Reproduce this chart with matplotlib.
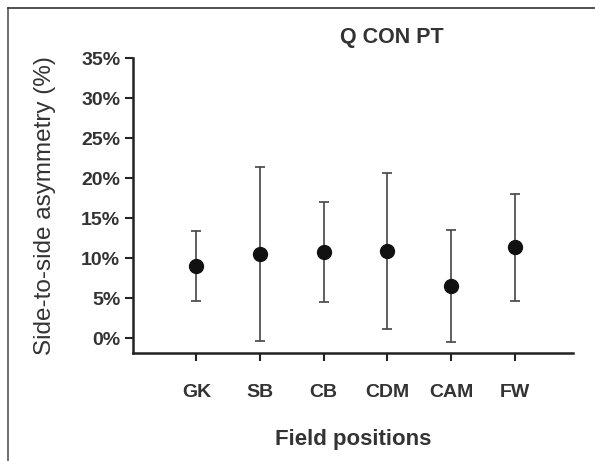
import matplotlib
matplotlib.use("Agg")
import matplotlib.pyplot as plt
from matplotlib.ticker import FuncFormatter
from matplotlib.lines import Line2D

categories = ["GK", "SB", "CB", "CDM", "CAM", "FW"]
means = [9.1, 10.5, 10.8, 10.9, 6.5, 11.45]
upper = [13.4, 21.4, 17.1, 20.7, 13.6, 18.0]
lower = [4.7, -0.3, 4.5, 1.2, -0.45, 4.7]
yticks = [0, 5, 10, 15, 20, 25, 30, 35]

plt.rcParams['font.family'] = ['Liberation Sans', 'DejaVu Sans']

fig = plt.figure(figsize=(5.95, 4.61), dpi=100)
ax = fig.add_axes([0.223, 0.2336, 0.9636 - 0.223, 0.8735 - 0.2336])

x = list(range(len(categories)))
err_lo = [m - l for m, l in zip(means, lower)]
err_hi = [u - m for m, u in zip(means, upper)]
ax.errorbar(x, means, yerr=[err_lo, err_hi], fmt='o', color='#111111',
            ecolor='#444444', elinewidth=1.2, capsize=3.5, capthick=1.2,
            markersize=10, zorder=3)

ax.set_xlim(-1, 5.92)
ax.set_ylim(-1.875, 35)
ax.set_xticks(x)
ax.set_xticklabels(categories)
ax.set_yticks(yticks)
ax.yaxis.set_major_formatter(FuncFormatter(lambda v, p: f"{int(v)}%"))

for s in ['top', 'right']:
    ax.spines[s].set_visible(False)
for s in ['left', 'bottom']:
    ax.spines[s].set_linewidth(1.8)
    ax.spines[s].set_color('#222222')
ax.spines['left'].set_bounds(-1.875, 35)

ax.tick_params(axis='both', direction='out', length=6, width=1.5, color='#222222',
               labelcolor='#333333', labelsize=14)
ax.tick_params(axis='x', pad=16)
ax.tick_params(axis='y', pad=3)
for lbl in ax.get_xticklabels() + ax.get_yticklabels():
    lbl.set_fontweight('bold')

ax.set_xlabel("Field positions", fontsize=16, fontweight='bold', color='#333333', labelpad=20)
ax.set_ylabel("Side-to-side asymmetry (%)", fontsize=17.5, color='#333333', labelpad=18)
fig.text(0.659, 0.918, "Q CON PT", ha='center', va='center', fontsize=15.5,
         fontweight='bold', color='#333333')

# image frame
fig.add_artist(Line2D([8/595, 8/595], [0, 1 - 8/461], transform=fig.transFigure,
                      color='#555555', linewidth=1.2))
fig.add_artist(Line2D([8/595, 1], [1 - 8/461, 1 - 8/461], transform=fig.transFigure,
                      color='#333333', linewidth=1.2))

fig.savefig("out.png", dpi=100)
